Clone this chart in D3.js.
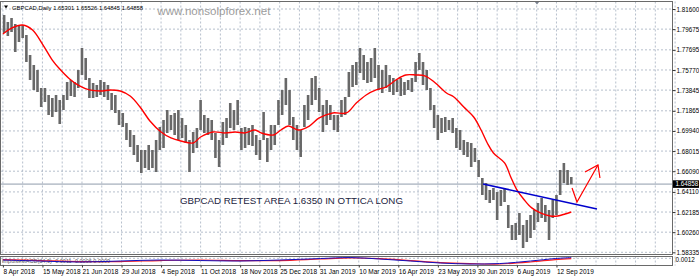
<!DOCTYPE html>
<html><head><meta charset="utf-8">
<script src="https://cdn.jsdelivr.net/npm/d3@7"></script>
<style>body{margin:0;background:#fff;} svg{display:block;font-family:"Liberation Sans",Arial,sans-serif;}</style>
</head><body><svg id="c" width="699" height="279"></svg>
<script>
// ---- data ----
const headerText = "GBPCAD,Daily  1.65301 1.65526 1.64845 1.64858";
const lastClose = 1.64858;
const dateLabels = ["8 Apr 2018","15 May 2018","21 Jun 2018","29 Jul 2018","4 Sep 2018","11 Oct 2018","18 Nov 2018","25 Dec 2018","31 Jan 2019","10 Mar 2019","16 Apr 2019","23 May 2019","30 Jun 2019","6 Aug 2019","12 Sep 2019"];
const priceTicks = [1.81600,1.79675,1.77695,1.75770,1.73845,1.71865,1.69940,1.68015,1.66090,1.64110,1.62185,1.60260,1.58335];
// bars grouped by 3 trading days (high / low)
const highs = [1.8103,1.8036,1.8074,1.8017,1.7998,1.8007,1.7911,1.7720,1.7625,1.7577,
1.7405,1.7405,1.7338,1.7309,1.7338,1.7290,1.7338,1.7462,1.7481,1.7462,
1.7577,1.7787,1.7692,1.7500,1.7453,1.7433,1.7481,1.7462,1.7433,1.7357,
1.7338,1.7194,1.7166,1.7070,1.7003,1.6955,1.6860,1.6812,1.6812,1.6860,
1.6812,1.6908,1.7032,1.7099,1.7194,1.7147,1.7166,1.7194,1.7118,1.7051,
1.6908,1.6984,1.7022,1.7290,1.7147,1.7118,1.7099,1.6975,1.6908,1.7080,
1.7118,1.7261,1.7194,1.7290,1.7022,1.7032,1.7022,1.7051,1.6955,1.6908,
1.7175,1.6927,1.7051,1.7051,1.7290,1.7386,1.7500,1.7386,1.7127,1.7051,
1.7003,1.7242,1.7338,1.7500,1.7519,1.7405,1.7242,1.7290,1.7242,1.7147,
1.7147,1.7290,1.7319,1.7558,1.7625,1.7653,1.7787,1.7720,1.7653,1.7692,
1.7787,1.7625,1.7577,1.7625,1.7529,1.7500,1.7481,1.7500,1.7462,1.7481,
1.7500,1.7653,1.7739,1.7653,1.7577,1.7405,1.7242,1.7147,1.7118,1.7127,
1.7099,1.7118,1.7022,1.7003,1.6908,1.6888,1.6879,1.6831,1.6716,1.6544,
1.6497,1.6430,1.6449,1.6410,1.6430,1.6449,1.6286,1.6095,1.6114,1.6210,
1.6095,1.6143,1.6191,1.6239,1.6305,1.6353,1.6286,1.6239,1.6334,1.6382,
1.6621,1.6688,1.6621,1.65526];
const lows = [1.7930,1.7902,1.7940,1.7749,1.7844,1.7883,1.7653,1.7481,1.7386,1.7366,
1.7223,1.7271,1.7147,1.7127,1.7175,1.7061,1.7194,1.7290,1.7328,1.7319,
1.7405,1.7529,1.7481,1.7309,1.7309,1.7319,1.7338,1.7319,1.7290,1.7194,
1.7166,1.7051,1.7032,1.6908,1.6841,1.6764,1.6697,1.6592,1.6640,1.6621,
1.6640,1.6602,1.6812,1.6831,1.6975,1.7003,1.6955,1.6908,1.6927,1.6879,
1.6602,1.6783,1.6831,1.7003,1.6975,1.6955,1.6908,1.6736,1.6649,1.6860,
1.6927,1.7022,1.7003,1.7051,1.6812,1.6831,1.6860,1.6850,1.6764,1.6716,
1.6908,1.6697,1.6812,1.6860,1.7051,1.7147,1.7242,1.7051,1.6908,1.6812,
1.6745,1.7032,1.7099,1.7242,1.7290,1.7175,1.6984,1.7051,1.7099,1.7003,
1.6984,1.7127,1.7147,1.7319,1.7414,1.7433,1.7548,1.7481,1.7453,1.7462,
1.7500,1.7386,1.7357,1.7405,1.7366,1.7338,1.7366,1.7328,1.7338,1.7386,
1.7366,1.7462,1.7577,1.7433,1.7386,1.7194,1.7022,1.6908,1.6975,1.6984,
1.7003,1.6975,1.6831,1.6812,1.6764,1.6745,1.6649,1.6697,1.6554,1.6382,
1.6334,1.6305,1.6334,1.6143,1.6277,1.6315,1.6066,1.5952,1.5952,1.6000,
1.5875,1.5933,1.5971,1.6047,1.6124,1.6162,1.6124,1.5952,1.6162,1.6191,
1.6382,1.6497,1.6477,1.64845];
// moving average (read at bar index)
const maDays = [0,7,16,24,32,40,46,54,62,70,79,87,95,103,111,119,128,136,144,154,160,170,180,188,196,204,209,219,225,231,239,248,256,267,278,286,294,302,310,318,326,334,342,350,359,365,373,381,387,392,397,406,411,416,422,428,435,443,449,455,460];
const maValues = [1.7921,1.7978,1.8007,1.7959,1.7825,1.7672,1.7586,1.7491,1.7424,1.7386,1.7376,1.7386,1.7376,1.7328,1.7223,1.7089,1.6984,1.6927,1.6898,1.6879,1.6936,1.6984,1.6975,1.6984,1.6975,1.7003,1.6975,1.6955,1.7003,1.7041,1.7003,1.7041,1.7118,1.7166,1.7166,1.7261,1.7338,1.7386,1.7414,1.7481,1.7529,1.7529,1.7519,1.7453,1.7357,1.7319,1.7223,1.7127,1.7003,1.6879,1.6783,1.6688,1.6554,1.6430,1.6334,1.6258,1.6210,1.6181,1.6181,1.6200,1.6219];
// trend line annotation
const trendDays = [388.6, 480.8];
const trendPrices = [1.6487, 1.6248];
// red arrow annotation
const arrowDays = [460.6, 464.6, 481.6];
const arrowPrices = [1.6449, 1.6315, 1.6669];
const arrowHeadDays = [471.1, 481.6, 483.2];
const arrowHeadPrices = [1.6602, 1.6669, 1.6544];
const noteText = "GBPCAD RETEST AREA 1.6350 IN OTTICA LONG";
const watermark = "www.nonsolpforex.net";
// indicator sub-window
const indLabel = "ImpulseMACD(34,9) -0.0011 -0.0006 0.0009";
const indDays = [0,30,62,95,127,160,192,224,257,281,305,330,354,378,402,427,447,460];
const indMain = [-0.0015,-0.0024,-0.0033,-0.0024,-0.0015,-0.0020,-0.0024,-0.0015,-0.0002,0.0007,-0.0006,-0.0024,-0.0042,-0.0051,-0.0047,-0.0024,-0.0002,0.0007];
const indSignal = [-0.0011,-0.0020,-0.0029,-0.0029,-0.0020,-0.0015,-0.0020,-0.0020,-0.0006,0.0003,-0.0002,-0.0020,-0.0038,-0.0047,-0.0051,-0.0033,-0.0011,-0.0002];

// ---- drawing ----
const svg = d3.select("#c");
const plotR = 672.5, mainTop = 1.5, mainBot = 254.5, indTop = 256.5, indBot = 265.5;
const x = d3.scaleLinear().domain([0, 32]).range([2.9, 42.44]);
const y = d3.scaleLinear().domain([1.81600, 1.58335]).range([9, 252.3]);
const yi = d3.scaleLinear().domain([0.0012, -0.0060]).range([257, 265]);

svg.append("rect").attr("width",699).attr("height",279).attr("fill","#fff");
const defs = svg.append("defs");
defs.append("clipPath").attr("id","mc").append("rect").attr("x",1).attr("y",2).attr("width",plotR-1).attr("height",mainBot-2);
defs.append("clipPath").attr("id","ic").append("rect").attr("x",1).attr("y",indTop+0.5).attr("width",plotR-1).attr("height",indBot-indTop-1);

const gridCol = "#a3afbf";
// vertical grid
const vDays = d3.range(0, 545, 16);
[[mainTop, mainBot],[indTop, indBot]].forEach(([a,b])=>{
  svg.append("g").selectAll("line").data(vDays).join("line")
    .attr("x1",d=>x(d)).attr("x2",d=>x(d)).attr("y1",a).attr("y2",b)
    .attr("stroke",gridCol).attr("stroke-width",0.8).attr("stroke-dasharray","2,2");
});
// horizontal grid
svg.append("g").selectAll("line").data(priceTicks).join("line")
  .attr("x1",1).attr("x2",plotR).attr("y1",d=>y(d)).attr("y2",d=>y(d))
  .attr("stroke",gridCol).attr("stroke-width",0.8).attr("stroke-dasharray","2,2");
// indicator zero line
svg.append("line").attr("x1",1).attr("x2",plotR).attr("y1",yi(0)).attr("y2",yi(0))
  .attr("stroke",gridCol).attr("stroke-width",0.8).attr("stroke-dasharray","2,2");

// watermark
svg.append("text").attr("x",x(125)).attr("y",14.5).attr("font-size",11.5).attr("fill","#9c9c9c")
  .attr("textLength",113).attr("lengthAdjust","spacingAndGlyphs").text(watermark);

// current price line
svg.append("line").attr("x1",1).attr("x2",plotR).attr("y1",y(lastClose)).attr("y2",y(lastClose))
  .attr("stroke","#8f9bab").attr("stroke-width",1);

const main = svg.append("g").attr("clip-path","url(#mc)");
// bars
main.append("g").selectAll("line").data(highs).join("line")
  .attr("x1",(d,i)=>x(3*i+1)).attr("x2",(d,i)=>x(3*i+1))
  .attr("y1",d=>y(d)).attr("y2",(d,i)=>y(lows[i]))
  .attr("stroke","#686868").attr("stroke-width",2.6);
// moving average
main.append("path").datum(maDays.map((d,i)=>[d,maValues[i]]))
  .attr("d", d3.line().x(d=>x(d[0])).y(d=>y(d[1])).curve(d3.curveCatmullRom))
  .attr("fill","none").attr("stroke","#ff0000").attr("stroke-width",1.4);
// trend line
main.append("line").attr("x1",x(trendDays[0])).attr("y1",y(trendPrices[0]))
  .attr("x2",x(trendDays[1])).attr("y2",y(trendPrices[1]))
  .attr("stroke","#0000cc").attr("stroke-width",1.5);
// arrow
const ln = d3.line().x(d=>x(d[0])).y(d=>y(d[1]));
main.append("path").datum(arrowDays.map((d,i)=>[d,arrowPrices[i]])).attr("d",ln)
  .attr("fill","none").attr("stroke","#ff0000").attr("stroke-width",1.2);
main.append("path").datum(arrowHeadDays.map((d,i)=>[d,arrowHeadPrices[i]])).attr("d",ln)
  .attr("fill","none").attr("stroke","#ff0000").attr("stroke-width",1.2);
// note
svg.append("text").attr("x",x(143.3)).attr("y",y(1.6296)).attr("font-size",9.6).attr("fill","#1b2340")
  .attr("textLength",223).attr("lengthAdjust","spacingAndGlyphs").text(noteText);

// header
svg.append("path").attr("d","M4,5.5 L8,5.5 L6,8.5 Z").attr("fill","#000");
svg.append("text").attr("x",12).attr("y",9.5).attr("font-size",6).attr("fill","#000")
  .attr("textLength",131).attr("lengthAdjust","spacingAndGlyphs").text(headerText);
// chart shift marker
svg.append("path").attr("d","M534.5,1.5 L539.5,1.5 L537,4.5 Z").attr("fill","#7a8290");

// indicator
const ind = svg.append("g").attr("clip-path","url(#ic)");
ind.append("text").attr("x",2).attr("y",262.5).attr("font-size",5.5).attr("fill","#555").text(indLabel);
const li = d3.line().x(d=>x(d[0])).y(d=>yi(d[1])).curve(d3.curveCatmullRom);
ind.append("path").datum(indDays.map((d,i)=>[d,indSignal[i]])).attr("d",li)
  .attr("fill","none").attr("stroke","#ff2020").attr("stroke-width",1.2);
ind.append("path").datum(indDays.map((d,i)=>[d,indMain[i]])).attr("d",li)
  .attr("fill","none").attr("stroke","#1010c0").attr("stroke-width",1);

// frames
svg.append("rect").attr("x",0.5).attr("y",mainTop).attr("width",plotR-0.5).attr("height",mainBot-mainTop)
  .attr("fill","none").attr("stroke","#6a6a6a").attr("stroke-width",1);
svg.append("rect").attr("x",0.5).attr("y",indTop).attr("width",plotR-0.5).attr("height",indBot-indTop)
  .attr("fill","none").attr("stroke","#6a6a6a").attr("stroke-width",1);

// price axis
const ya = svg.append("g").attr("transform",`translate(${plotR},0)`)
  .call(d3.axisRight(y).tickValues(priceTicks).tickFormat(d3.format(".5f")).tickSize(3).tickPadding(1));
ya.select(".domain").remove();
ya.selectAll("text").attr("font-size",6.3).attr("font-family","Liberation Sans, Arial, sans-serif").attr("fill","#000");
ya.selectAll("line").attr("stroke","#333");
// current price box
svg.append("rect").attr("x",plotR+0.5).attr("y",y(lastClose)-3.8).attr("width",26).attr("height",7.6).attr("fill","#000");
svg.append("text").attr("x",plotR+3).attr("y",y(lastClose)+2.2).attr("font-size",6.3).attr("fill","#fff").text(d3.format(".5f")(lastClose));
// indicator axis label
svg.append("text").attr("x",plotR+3).attr("y",yi(0.0012)+4.5).attr("font-size",6.3).attr("fill","#000").text("0.0012");

// time axis
const xa = svg.append("g").attr("transform",`translate(0,${indBot})`)
  .call(d3.axisBottom(x).tickValues(dateLabels.map((d,i)=>32*i)).tickFormat((d,i)=>dateLabels[i]).tickSize(2).tickPadding(1.5));
xa.select(".domain").remove();
xa.selectAll("text").attr("font-size",6.5).attr("font-family","Liberation Sans, Arial, sans-serif").attr("fill","#000")
  .attr("text-anchor","start").attr("dx",0);
xa.selectAll("line").attr("stroke","#333");
</script></body></html>
